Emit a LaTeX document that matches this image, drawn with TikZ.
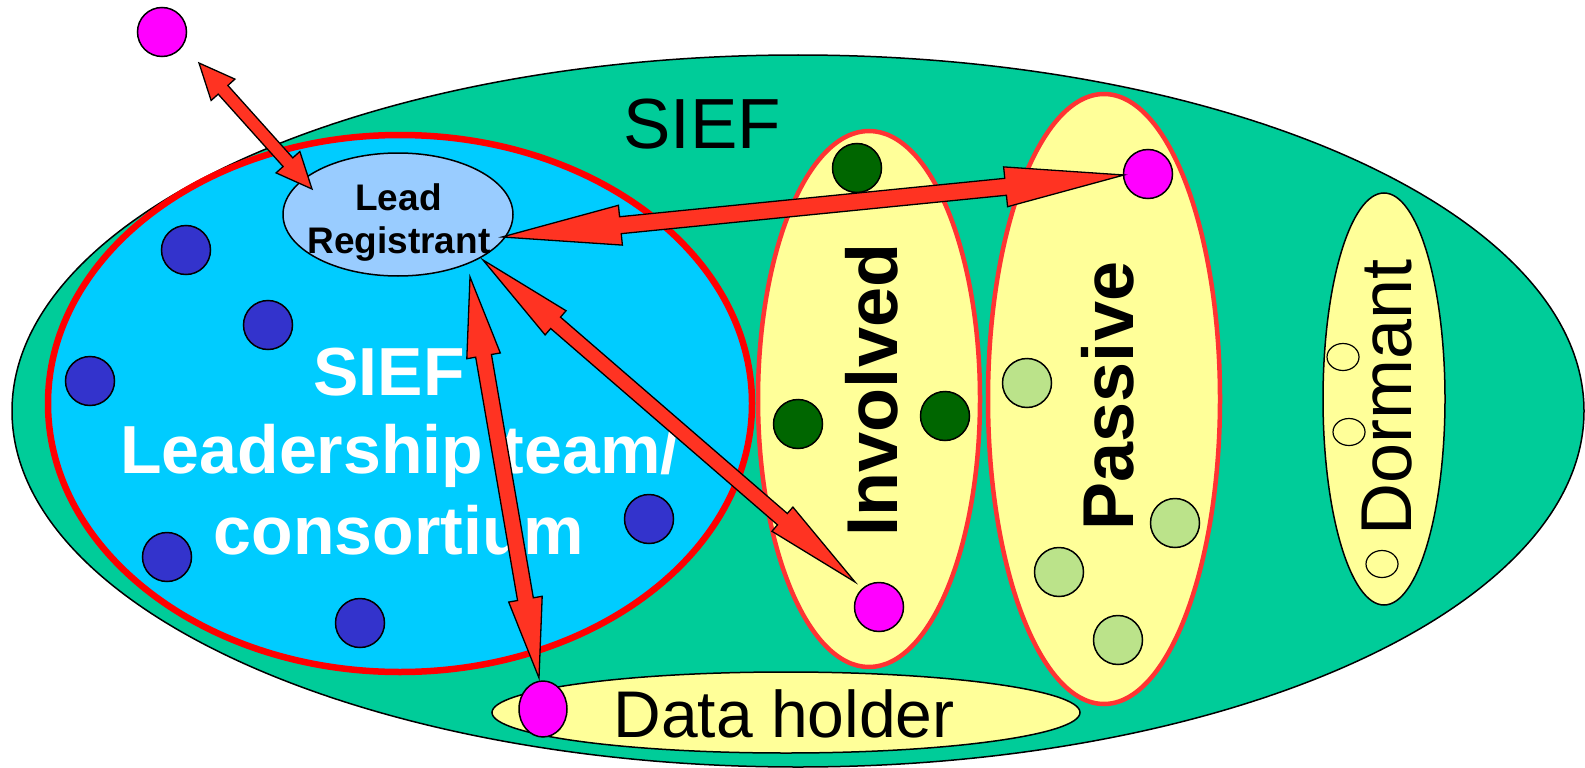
\documentclass[tikz,border=0pt]{standalone}
\usepackage{fontspec}
\setmainfont{Liberation Sans}
\usetikzlibrary{shapes.geometric,calc}
\definecolor{siefgreen}{HTML}{00CC99}
\definecolor{leadblue}{HTML}{00CCFF}
\definecolor{regblue}{HTML}{99CCFF}
\definecolor{paleyellow}{HTML}{FFFF99}
\definecolor{borderred}{HTML}{FF3333}
\definecolor{arrowred}{HTML}{FF3322}
\definecolor{dotblue}{HTML}{3333CC}
\definecolor{dotdark}{HTML}{006600}
\definecolor{dotmag}{HTML}{FF00FF}
\definecolor{dotlight}{HTML}{BBE38A}
\newcommand\dblarrow[5]{%
  \path coordinate (da1) at ($(#1)!#5!(#2)$) coordinate (db1) at ($(#2)!#5!(#1)$);
  \draw[arrowshape] (#1) -- ($(da1)!#4!90:(#2)$) -- ($(da1)!#3!90:(#2)$)
    -- ($(db1)!#3!-90:(#1)$) -- ($(db1)!#4!-90:(#1)$) -- (#2)
    -- ($(db1)!#4!90:(#1)$) -- ($(db1)!#3!90:(#1)$)
    -- ($(da1)!#3!-90:(#2)$) -- ($(da1)!#4!-90:(#2)$) -- cycle;}
\begin{document}
\begin{tikzpicture}[x=1pt,y=-1pt,
  blob/.style={ellipse, draw, line width=1.5pt, inner sep=0pt},
  redblob/.style={ellipse, draw=borderred, line width=4.5pt, fill=paleyellow, inner sep=0pt},
  member/.style={circle, draw, line width=1.5pt, inner sep=0pt, minimum size=49pt},
  emptydot/.style={ellipse, draw, line width=1.2pt, inner sep=0pt, minimum width=32pt, minimum height=27pt, fill=paleyellow},
  arrowshape/.style={draw=black, line width=1.3pt, fill=arrowred, line join=miter},
  whitetxt/.style={text=white, font=\bfseries\fontsize{68}{80}\selectfont, anchor=base},
  regtxt/.style={anchor=base, font=\bfseries\fontsize{37}{43}\selectfont},
  verttxt/.style={rotate=90, anchor=base, font=\bfseries\fontsize{72}{80}\selectfont},
]
\useasboundingbox (0,0) rectangle (1585,768);

% SIEF
\node[blob, fill=siefgreen, minimum width=1572pt, minimum height=712pt] (sief) at (798,411) {};
\node[anchor=base, font=\fontsize{71}{80}\selectfont] (sieftxt) at (702,148) {SIEF};

% Leadership team
\node[ellipse, draw=red, line width=6.5pt, fill=leadblue, inner sep=0pt, minimum width=704pt, minimum height=537pt] (team) at (400,403.5) {};
\node[whitetxt] (t1) at (389,395) {SIEF};
\node[whitetxt] (t2) at (400,473) {Leadership team/};
\node[whitetxt] (t3) at (399,554) {consortium};

\node[blob, fill=regblue, minimum width=230pt, minimum height=123pt] (lead) at (398,214.5) {};
\node[regtxt] (leadtxt) at (398.5,210) {Lead};
\node[regtxt] (regtxt) at (399,253) {Registrant};

\foreach \p [count=\i] in {(186,250),(268,325),(90,381),(167,557),(360,623),(649,519)}
  \node[member, fill=dotblue] (b\i) at \p {};

% Involved
\node[redblob, minimum width=222pt, minimum height=536pt] (inv) at (869,399) {};
\node[rotate=90, font=\bfseries\fontsize{72}{80}\selectfont] (invtxt) at (872,390) {Involved};
\node[member, fill=dotdark] (g1) at (857,168) {};
\node[member, fill=dotdark] (g2) at (798,424) {};
\node[member, fill=dotdark] (g3) at (945,416) {};
\node[member, fill=dotmag] (m2) at (879,607) {};

% Passive
\node[redblob, minimum width=232pt, minimum height=610pt] (pas) at (1104,399) {};
\node[verttxt] (pastxt) at (1133,396) {Passive};
\node[member, fill=dotmag] (m3) at (1148,174) {};
\foreach \p [count=\i] in {(1027,383),(1175,523),(1059,572),(1118,640)}
  \node[member, fill=dotlight] (l\i) at \p {};

% Dormant
\node[blob, fill=paleyellow, minimum width=122pt, minimum height=412pt] (dor) at (1384,399) {};
\node[verttxt, font=\fontsize{72}{80}\selectfont] (dortxt) at (1411,397.5) {Dormant};
\node[emptydot] (e1) at (1343,357) {};
\node[emptydot] (e2) at (1349,432) {};
\node[emptydot] (e3) at (1382,564) {};

% Data holder
\node[blob, fill=paleyellow, minimum width=588pt, minimum height=81pt] (dh) at (786,712.5) {};
\node[anchor=base, font=\fontsize{66}{75}\selectfont] (dhtxt) at (784,737) {Data holder};
\node[ellipse, draw, line width=1.5pt, inner sep=0pt, minimum width=48pt, minimum height=56pt, fill=dotmag] (m4) at (543,709) {};

% outside member
\node[member, fill=dotmag] (m1) at (162,32) {};

% arrow tips
\coordinate (a1s) at (199,63);
\coordinate (a1e) at (312,189);
\coordinate (a2s) at (502,237);
\coordinate (a2e) at (1124,175);
\coordinate (a3s) at (483,260);
\coordinate (a3e) at (855,582);
\coordinate (a4s) at (470,277);
\coordinate (a4e) at (539,678);

\dblarrow{a1s}{a1e}{6.5pt}{16pt}{36pt}
\dblarrow{a2s}{a2e}{8.5pt}{20pt}{119pt}
\dblarrow{a3s}{a3e}{7.5pt}{16pt}{96pt}
\dblarrow{a4s}{a4e}{8pt}{17pt}{80pt}
\end{tikzpicture}
\end{document}
